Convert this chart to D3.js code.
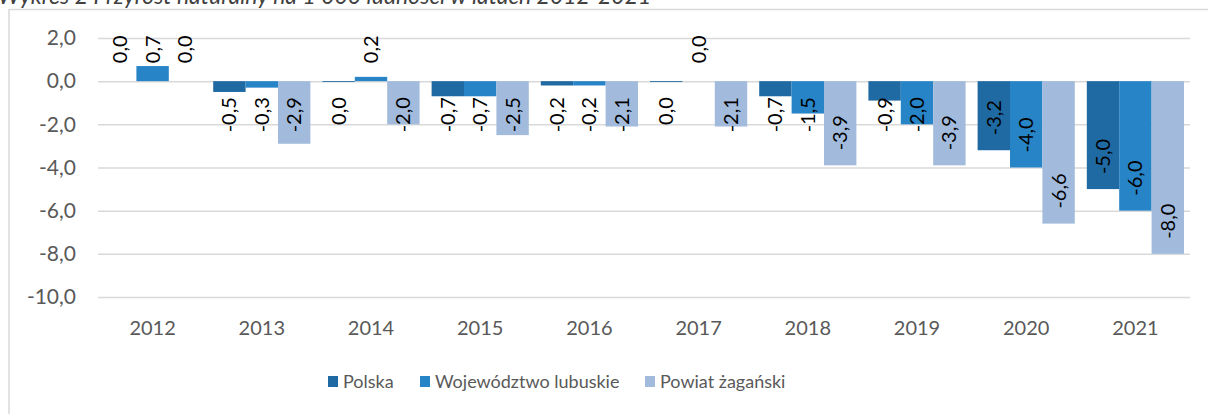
<!DOCTYPE html>
<html><head><meta charset="utf-8">
<script src="https://cdn.jsdelivr.net/npm/d3@7"></script>
<style>
html,body{margin:0;padding:0;background:#fff;overflow:hidden;}
svg{display:block;font-family:Lato, "Open Sans", sans-serif;}
</style></head>
<body>
<svg id="c" width="1208" height="414"></svg>
<script>
const years = ["2012","2013","2014","2015","2016","2017","2018","2019","2020","2021"];
const seriesNames = ["Polska","Województwo lubuskie","Powiat żagański"];
const colors = ["#1F6AA3","#2784C7","#A2BBDD"];
const polska = [0.0,-0.5,-0.04,-0.7,-0.2,-0.04,-0.7,-0.9,-3.2,-5.0];
const lubuskie = [0.7,-0.3,0.2,-0.7,-0.2,0.0,-1.5,-2.0,-4.0,-6.0];
const zaganski = [0.0,-2.9,-2.0,-2.5,-2.1,-2.1,-3.9,-3.9,-6.6,-8.0];
const yTicks = [2,0,-2,-4,-6,-8,-10];
const title = "Wykres 2 Przyrost naturalny na 1 000 ludności w latach 2012-2021";

const series = [polska, lubuskie, zaganski];
const svg = d3.select("#c");
const W = 1208, H = 414;
const m = {left:98, right:1190, top:38, bottom:297};

// frame
svg.append("rect").attr("x",9).attr("y",9.5).attr("width",W+10).attr("height",H+10)
  .attr("fill","none").attr("stroke","#d9d9d9").attr("stroke-width",1.5);

svg.append("text").attr("x",-2).attr("y",4).attr("font-style","italic")
  .attr("font-size",23).attr("fill","#404040").text(title);

const y = d3.scaleLinear().domain([-10,2]).range([m.bottom,m.top]);
const x0 = d3.scaleBand().domain(years).range([m.left,m.right]).paddingInner(0.11).paddingOuter(0.055);
const x1 = d3.scaleBand().domain(d3.range(3)).range([0,x0.bandwidth()]);

const yAxis = d3.axisLeft(y).tickValues(yTicks).tickSize(-(m.right-m.left)).tickPadding(22)
  .tickFormat(d => d3.format(".1f")(d).replace(".",",").replace("−","-"));
const gy = svg.append("g").attr("transform",`translate(${m.left},0)`).call(yAxis);
gy.select(".domain").remove();
gy.selectAll(".tick line").attr("stroke","#d9d9d9").attr("stroke-width",1.5);
gy.selectAll(".tick text").attr("fill","#595959").attr("font-size",21).attr("font-family","Lato");

const xAxis = d3.axisBottom(x0).tickSize(0).tickPadding(0);
const gx = svg.append("g").attr("transform",`translate(0,${m.bottom+38})`).call(xAxis);
gx.select(".domain").remove();
gx.selectAll(".tick text").attr("fill","#595959").attr("font-size",20).attr("font-family","Lato").attr("dy",0);

const fmt = v => (Math.abs(v) < 0.05 ? "0,0" : d3.format(".1f")(v).replace(".",",").replace("−","-"));
const y0 = y(0);

series.forEach((vals, si) => {
  const g = svg.append("g");
  g.selectAll("rect").data(vals).join("rect")
    .attr("x",(d,i)=>x0(years[i])+x1(si))
    .attr("width",x1.bandwidth())
    .attr("y",d=>Math.min(y(d),y0))
    .attr("height",d=>Math.abs(y(d)-y0))
    .attr("fill",colors[si]);
});

series.forEach((vals, si) => {
  vals.forEach((d,i)=>{
    const cx = x0(years[i])+x1(si)+x1.bandwidth()/2;
    const t = svg.append("text").attr("font-size",20).attr("fill","#000")
      .attr("font-family","Lato").text(fmt(d));
    const len = t.node().getComputedTextLength();
    let bottom;
    if (d >= 0) {
      bottom = Math.min(y0-18, y(d)-2);
    } else {
      bottom = Math.max(y(d)-15, y0+16+len);
    }
    t.attr("transform",`translate(${cx},${bottom}) rotate(-90)`).attr("dy","0.35em");
  });
});

// legend
const legX = [328, 420, 645];
seriesNames.forEach((n,i)=>{
  svg.append("rect").attr("x",legX[i]).attr("y",376).attr("width",10).attr("height",11).attr("fill",colors[i]);
  svg.append("text").attr("x",legX[i]+15).attr("y",388).attr("font-size",18).attr("fill","#595959").text(n);
});
</script>
</body></html>
